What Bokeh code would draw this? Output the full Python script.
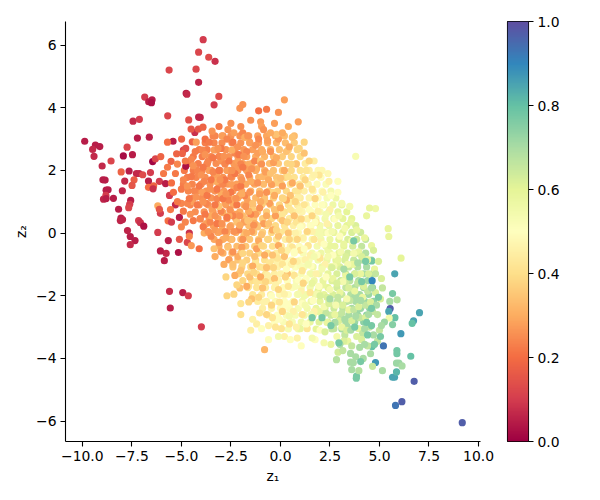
import numpy as np
from bokeh.plotting import figure
from bokeh.layouts import row
from bokeh.models import LinearColorMapper, FixedTicker, ColumnDataSource
from bokeh.palettes import Spectral11, interp_palette
from bokeh.embed import file_html
from bokeh.resources import INLINE

x_ticks = [-10, -7.5, -5, -2.5, 0, 2.5, 5, 7.5, 10]
x_labels = ["\u221210.0", "\u22127.5", "\u22125.0", "\u22122.5", "0.0", "2.5", "5.0", "7.5", "10.0"]
y_ticks = [-6, -4, -2, 0, 2, 4, 6]
y_labels = ["\u22126", "\u22124", "\u22122", "0", "2", "4", "6"]
cb_ticks = [0, 0.2, 0.4, 0.6, 0.8, 1.0]
cb_labels = ["0.0", "0.2", "0.4", "0.6", "0.8", "1.0"]

# dense core read row by row: z2, z1 values, colour values
core_rows = [
(3.1,[-3.4,-2.9,-2.5,-2.05,-1.6,-1.15,-.7,-.25,.2],[.24,.25,.26,.26,.27,.28,.29,.31,.33]),
(2.88,[-3.8,-3.35,-2.95,-2.45,-2.0,-1.55,-1.1,-.65,-.2,.25,.7],[.23,.24,.25,.26,.26,.27,.28,.3,.32,.33,.36]),
(2.66,[-4.1,-3.7,-3.2,-2.75,-2.3,-1.85,-1.4,-.95,-.5,-.05,.4,.85],[.22,.23,.25,.26,.26,.27,.28,.3,.32,.34,.37,.38]),
(2.44,[-4.4,-3.95,-3.5,-3.05,-2.6,-2.15,-1.7,-1.25,-.8,-.35,.1,.55,1.0],[.22,.23,.24,.25,.26,.27,.28,.3,.32,.33,.36,.38,.4]),
(2.22,[-4.6,-4.15,-3.7,-3.25,-2.8,-2.35,-1.9,-1.45,-1.0,-.55,-.1,.35,.8,1.25],[.22,.23,.24,.25,.26,.27,.28,.3,.31,.33,.35,.38,.4,.44]),
(2.0,[-4.85,-4.4,-3.95,-3.5,-3.05,-2.6,-2.15,-1.7,-1.25,-.8,-.35,.1,.55,1.0,1.45,1.9],[.22,.23,.24,.25,.26,.26,.27,.28,.3,.32,.34,.36,.39,.42,.45,.48]),
(1.78,[-4.7,-4.25,-3.8,-3.35,-2.9,-2.45,-2.0,-1.55,-1.1,-.65,-.2,.25,.7,1.15,1.6,2.05],[.23,.24,.25,.26,.26,.27,.28,.3,.31,.33,.35,.38,.41,.44,.47,.5]),
(1.56,[-4.9,-4.45,-4.0,-3.55,-3.1,-2.65,-2.2,-1.75,-1.3,-.85,-.4,.05,.5,.95,1.4,1.85,2.3],[.23,.24,.25,.26,.26,.27,.28,.3,.31,.33,.35,.37,.4,.43,.46,.49,.52]),
(1.34,[-4.65,-4.2,-3.75,-3.3,-2.85,-2.4,-1.95,-1.5,-1.05,-.6,-.15,.3,.75,1.2,1.65,2.1,2.55],[.24,.25,.26,.26,.27,.28,.29,.31,.33,.35,.37,.39,.42,.45,.48,.51,.54]),
(1.12,[-4.4,-3.95,-3.5,-3.05,-2.6,-2.15,-1.7,-1.25,-.8,-.35,.1,.55,1.0,1.45,1.9,2.35,2.8],[.24,.25,.26,.27,.28,.29,.3,.32,.34,.36,.38,.41,.44,.47,.5,.53,.56]),
(.9,[-4.55,-4.1,-3.65,-3.2,-2.75,-2.3,-1.85,-1.4,-.95,-.5,-.05,.4,.85,1.3,1.75,2.2,2.65,3.1],[.24,.25,.26,.27,.28,.29,.3,.32,.34,.36,.38,.41,.44,.47,.5,.53,.56,.58]),
(.68,[-4.3,-3.85,-3.4,-2.95,-2.5,-2.05,-1.6,-1.15,-.7,-.25,.2,.65,1.1,1.55,2.0,2.45,2.9,3.35],[.25,.26,.27,.28,.29,.3,.32,.34,.36,.38,.41,.44,.47,.5,.53,.56,.58,.6]),
(.46,[-4.05,-3.6,-3.15,-2.7,-2.25,-1.8,-1.35,-.9,-.45,0,.45,.9,1.35,1.8,2.25,2.7,3.15,3.6],[.26,.27,.28,.29,.3,.32,.34,.36,.38,.4,.43,.46,.49,.52,.55,.57,.59,.6]),
(.24,[-3.85,-3.4,-2.95,-2.5,-2.05,-1.6,-1.15,-.7,-.25,.2,.65,1.1,1.55,2.0,2.45,2.9,3.35,3.8],[.27,.28,.29,.3,.31,.33,.35,.37,.39,.42,.45,.48,.51,.54,.56,.58,.6,.62]),
(.02,[-3.6,-3.15,-2.7,-2.25,-1.8,-1.35,-.9,-.45,0,.45,.9,1.35,1.8,2.25,2.7,3.15,3.6,4.05],[.28,.29,.3,.31,.33,.35,.37,.39,.42,.45,.48,.51,.54,.56,.58,.6,.62,.64]),
(-.2,[-3.35,-2.9,-2.45,-2.0,-1.55,-1.1,-.65,-.2,.25,.7,1.15,1.6,2.05,2.5,2.95,3.4,3.85,4.3],[.29,.3,.31,.33,.35,.37,.39,.42,.45,.48,.5,.53,.55,.57,.59,.62,.64,.66]),
(-.42,[-3.1,-2.65,-2.2,-1.75,-1.3,-.85,-.4,.05,.5,.95,1.4,1.85,2.3,2.75,3.2,3.65,4.1],[.3,.31,.33,.35,.37,.39,.41,.44,.47,.5,.52,.54,.56,.58,.6,.63,.66]),
(-.64,[-2.9,-2.45,-2.0,-1.55,-1.1,-.65,-.2,.25,.7,1.15,1.6,2.05,2.5,2.95,3.4,3.85,4.3],[.31,.33,.35,.37,.39,.41,.44,.47,.5,.52,.54,.56,.58,.6,.63,.66,.68]),
(-.86,[-2.6,-2.15,-1.7,-1.25,-.8,-.35,.1,.55,1.0,1.45,1.9,2.35,2.8,3.25,3.7,4.15,4.6],[.33,.35,.37,.39,.41,.43,.46,.49,.51,.53,.55,.57,.6,.62,.65,.68,.7]),
(-1.08,[-2.4,-1.95,-1.5,-1.05,-.6,-.15,.3,.75,1.2,1.65,2.1,2.55,3.0,3.45,3.9,4.35],[.35,.37,.39,.41,.43,.46,.49,.51,.53,.55,.57,.6,.62,.65,.68,.7]),
(-1.3,[-2.1,-1.65,-1.2,-.75,-.3,.15,.6,1.05,1.5,1.95,2.4,2.85,3.3,3.75,4.2,4.65],[.37,.39,.41,.43,.45,.48,.5,.52,.54,.56,.59,.62,.65,.68,.7,.72]),
(-1.52,[-1.9,-1.45,-1.0,-.55,-.1,.35,.8,1.25,1.7,2.15,2.6,3.05,3.5,3.95,4.4],[.38,.4,.42,.44,.47,.5,.52,.54,.56,.58,.61,.64,.67,.7,.72]),
(-1.74,[-1.65,-1.2,-.75,-.3,.15,.6,1.05,1.5,1.95,2.4,2.85,3.3,3.75,4.2,4.65],[.4,.42,.44,.46,.49,.51,.53,.55,.57,.6,.63,.66,.69,.71,.73]),
(-1.96,[-1.4,-.95,-.5,-.05,.4,.85,1.3,1.75,2.2,2.65,3.1,3.55,4.0,4.45],[.42,.44,.46,.48,.5,.52,.54,.56,.59,.62,.65,.68,.7,.72]),
(-2.18,[-1.15,-.7,-.25,.2,.65,1.1,1.55,2.0,2.45,2.9,3.35,3.8,4.25,4.7],[.44,.46,.48,.5,.52,.54,.56,.59,.62,.65,.68,.7,.72,.74]),
(-2.4,[-.9,-.45,0,.45,.9,1.35,1.8,2.25,2.7,3.15,3.6,4.05,4.5],[.45,.47,.49,.51,.53,.55,.58,.61,.64,.67,.7,.72,.74]),
(-2.62,[-.6,-.15,.3,.75,1.2,1.65,2.1,2.55,3.0,3.45,3.9,4.35],[.48,.5,.52,.53,.55,.58,.61,.64,.67,.7,.72,.74]),
(-2.84,[-.3,.15,.6,1.05,1.5,1.95,2.4,2.85,3.3,3.75,4.2],[.5,.52,.53,.55,.58,.61,.64,.67,.7,.72,.74]),
(-3.06,[.4,.9,1.8,2.6,3.1,3.55],[.53,.55,.6,.65,.7,.72]),
]

# outlying points: z1, z2, value
outliers = [
(-3.90,6.17,.1),(-4.13,5.77,.12),(-3.62,5.61,.13),(-3.30,5.48,.08),(-4.26,5.23,.12),(-5.62,5.20,.12),(-4.13,4.81,.06),
(-4.76,4.46,.05),(-4.72,4.43,.07),(-3.11,4.36,.13),(-3.35,4.09,.1),(-6.85,4.34,.1),(-6.65,4.19,.05),(-6.48,4.25,.05),(-6.51,4.16,.03),
(-5.69,3.74,.12),(-7.44,3.57,.07),(-7.12,3.63,.1),(-4.63,3.61,.14),(-4.13,3.70,.06),(-4.05,3.69,.06),(-7.22,3.03,.05),(-6.62,3.06,.05),
(-9.88,2.93,.05),(-9.34,2.81,.05),(-9.12,2.76,.05),(-9.48,2.67,.07),(-9.41,2.45,.07),(-9.0,2.14,.07),(-8.55,2.30,.12),(-7.74,2.74,.12),
(-7.93,2.46,.02),(-7.47,2.5,.05),(-6.45,2.28,.01),(-6.31,2.37,.12),(-6.04,2.44,.18),(-5.42,2.93,.05),(-5.7,2.90,.2),(-4.32,3.21,.08),
(-4.51,3.32,.16),(-4.14,3.32,.16),(-3.91,3.38,.18),(-4.99,3.0,.18),(-4.45,2.91,.18),(-4.9,2.65,.12),(-4.78,2.7,.14),(-5.24,2.53,.18),
(-4.95,2.54,.18),(-5.52,2.29,.18),(-4.78,2.13,.03),(-8.04,1.95,.18),(-7.64,1.98,.05),(-7.27,1.9,.07),(-7.13,1.9,.07),(-6.56,1.93,.1),
(-6.95,1.86,.13),(-8.96,1.7,.05),(-8.85,1.69,.05),(-7.86,1.66,.07),(-7.39,1.7,.17),(-7.49,1.52,.15),(-6.66,1.66,.05),(-6.11,1.65,.1),
(-6.66,1.46,.2),(-6.4,1.51,.18),(-6.43,1.41,.08),(-5.8,1.58,.05),(-8.8,1.37,.05),(-8.7,1.38,.05),(-7.98,1.35,.06),(-8.93,1.08,.06),
(-8.81,1.2,.1),(-8.8,1.1,.05),(-8.43,1.11,.05),(-7.56,1.04,.05),(-7.61,.92,.1),(-7.66,.81,.12),(-8.17,.76,.05),(-6.19,.87,.3),
(-6.06,.63,.1),(-6.11,.76,.15),(-8.05,.48,.05),(-7.97,.43,.06),(-8.08,.40,.06),(-7.16,.4,.1),(-7.07,.33,.08),(-6.9,.22,.03),
(-7.72,.08,.06),(-6.19,.02,.1),(-5.67,.39,.2),(-7.34,-.24,.05),(-5.66,-.24,.05),(-7.58,-.11,.05),(-7.58,-.37,.07),
(-5.15,-.62,.03),(-5.77,-.65,.07),(-5.86,-.88,.05),(-6.06,-.57,.05),(-5.6,-1.86,.07),(-4.93,-1.9,.05),(-4.65,-2.0,.1),(-5.56,-2.39,.05),
(-3.99,-2.99,.1),(-5.1,-.2,.15),(-4.7,-.3,.12),(-5.5,.35,.1),(-4.1,-.5,.2),(-4.6,.0,.08),(-5.1,.5,.05),(-5.3,.9,.07),(-5.6,1.2,.1),
(9.18,-6.05,.97),(5.81,-5.5,.93),(6.13,-5.38,.97),(6.75,-4.73,.97),(5.76,-4.6,.85),(5.66,-4.6,.85),(3.84,-4.56,.77),(3.83,-4.63,.77),
(6.58,-3.93,.8),(5.88,-3.75,.78),(5.88,-3.85,.78),(6.08,-3.21,.87),(7.02,-2.54,.85),(6.72,-2.80,.85),(6.65,-2.88,.8),(5.54,-2.41,.97),
(5.47,-2.5,.85),(5.78,-2.7,.8),(5.66,-2.92,.75),(5.49,-2.71,.55),(5.25,-2.84,.72),(5.89,-2.13,.68),(5.52,-2.18,.7),(5.66,-1.93,.77),
(5.77,-1.3,.85),(6.09,-.8,.6),(5.44,.14,.58),(5.47,-.11,.58),(3.8,2.45,.53),(4.8,.78,.56),(5.2,-3.6,.93),(4.8,-4.13,.87),(4.65,-4.25,.65),
(5.15,-4.39,.7),(5.86,-4.43,.82),(5.86,-4.15,.72),(5.98,-4.15,.72),(6.14,-4.24,.7),(4.18,-4.0,.7),(3.96,-4.39,.68),(3.6,-4.36,.7),
(3.54,-4.12,.7),(3.68,-4.14,.7),(2.83,-4.04,.68),(3.54,-3.84,.7),(2.91,-3.8,.63),(4.63,-3.62,.8),(4.63,-1.52,.9),(4.61,-.89,.78),
(-1.9,4.1,.26),(-2.05,3.98,.26),(0.2,4.25,.28),(-0.7,3.95,.22),(-1.1,3.9,.2),(0.9,3.55,.28),(-0.1,3.85,.26),
(-5.9,1.9,.22),(-5.5,1.6,.2),(-5.7,2.1,.22),(-5.2,2.2,.24),(-5.4,1.3,.2),(-5.55,.75,.22),(-5.0,.95,.24),(-5.0,.2,.24),(-4.8,.35,.24),(-4.5,-.4,.27),
(-2.5,3.5,.25),(-1.5,3.6,.25),(-1.0,3.55,.27),(-.3,3.5,.28),(-3.8,3.0,.2),(-3.1,3.4,.22),(-2.0,3.4,.25),(.4,3.4,.3),(.7,3.1,.33),(1.2,2.9,.38),
(1.7,2.3,.45),(2.1,2.0,.48),(2.4,1.9,.48),(2.9,1.65,.5),(-.8,-3.72,.32),(-2.0,-2.6,.4),(-1.5,-3.1,.45),(-2.7,-2.0,.38),(-1.2,-2.9,.45),(-.6,-3.4,.5),
(-3.3,.1,.27),(-2.9,.65,.3),(-2.4,.95,.3),(-1.9,.55,.33),(-1.4,.75,.36),(-.9,.95,.36),(-.4,1.3,.38),(.1,.6,.42),(.55,1.0,.44),(1.0,.7,.47),
(1.5,.25,.5),(2.0,-.05,.54),(2.4,-.55,.56),(2.85,-.95,.6),(3.3,-1.55,.64),(3.75,-2.05,.7),(-3.7,2.2,.24),(-3.0,2.3,.26),(-2.3,2.1,.27),(-1.6,2.2,.3),
(-.9,1.8,.32),(-.2,1.6,.36),(.4,1.8,.4),(.9,1.15,.45),(-2.5,-.2,.33),(-1.9,-.95,.38),(-1.25,-.95,.42),(-.65,-1.35,.45),(-.15,-.95,.46),(.4,-.95,.5),
(1.0,-1.05,.52),(1.55,-1.3,.55),(.75,-1.7,.52),(.2,-2.35,.5),(1.2,-2.0,.55),(1.9,-1.85,.6),(2.35,-2.05,.62),(2.85,-2.2,.66),(3.35,-2.95,.7),(3.85,-2.5,.72),
]

band_22 = [(-5.3,1.9),(-5.0,1.4),(-4.8,2.3),(-4.6,1.1),(-4.5,1.8),(-4.3,2.6),(-4.2,.9),(-4.1,1.5),(-3.9,2.1),(-3.8,.6),(-3.7,1.2),(-3.6,2.9),(-3.5,1.7),(-3.4,2.4),(-3.3,.9),(-3.2,1.4),(-3.1,2.0),(-3.0,2.7),(-2.9,1.1),(-2.8,1.7),(-2.7,.5),(-2.6,2.3),(-2.5,1.3),(-2.4,2.9),(-2.3,1.9),(-2.2,.9),(-2.1,2.5),(-2.0,1.5),(-1.9,2.1),(-4.9,.7),(-5.2,1.0),(-4.4,.4),(-3.9,.2),(-3.2,.3)]
band_24 = [(-4.9,1.7),(-4.7,.95),(-4.5,2.35),(-4.35,1.35),(-4.2,2.0),(-4.05,.45),(-3.95,2.65),(-3.85,1.65),(-3.75,.95),(-3.65,2.3),(-3.55,.35),(-3.4,1.95),(-3.3,3.1),(-3.2,1.1),(-3.1,2.45),(-3.0,.7),(-2.9,1.55),(-2.8,2.2),(-2.7,3.0),(-2.6,1.05),(-2.5,1.8),(-2.4,.55),(-2.3,2.55),(-2.2,1.45),(-2.1,.1),(-2.0,2.2),(-1.9,3.2),(-1.8,1.2),(-1.7,2.6),(-1.6,1.85),(-1.5,.6),(-1.3,2.3),(-1.1,3.0),(-3.5,-.1),(-4.6,-.1),(-2.8,.05)]
band_26 = [(-4.7,1.5),(-4.55,.6),(-4.4,2.15),(-4.25,1.15),(-4.0,1.85),(-3.9,1.0),(-3.8,2.5),(-3.65,.05),(-3.55,1.4),(-3.45,3.25),(-3.3,.55),(-3.15,2.7),(-3.05,1.7),(-2.95,.3),(-2.85,2.45),(-2.75,1.25),(-2.65,3.3),(-2.55,.75),(-2.45,2.0),(-2.35,.05),(-2.25,1.1),(-2.15,2.75),(-2.05,.55),(-1.95,1.7),(-1.85,2.45),(-1.75,.85),(-1.65,3.1),(-1.55,1.3),(-1.45,2.05),(-1.35,.25),(-1.25,2.8),(-1.15,1.6),(-1.05,.8),(-.95,2.2),(-.85,3.3),(-.7,1.3),(-.5,2.6),(-3.1,-.3),(-2.4,-.6),(-1.9,-.2)]
band_28 = [(-4.45,1.0),(-4.25,2.9),(-3.95,1.3),(-3.75,.3),(-3.6,2.0),(-3.45,.75),(-3.35,2.65),(-3.2,1.85),(-3.05,.05),(-2.95,3.1),(-2.8,.95),(-2.7,2.0),(-2.55,.2),(-2.45,1.55),(-2.35,3.2),(-2.25,.6),(-2.15,2.3),(-2.05,1.2),(-1.95,-.45),(-1.85,.35),(-1.75,2.05),(-1.65,1.0),(-1.55,2.9),(-1.45,.05),(-1.35,1.6),(-1.25,.6),(-1.15,2.55),(-1.05,1.25),(-.95,3.4),(-.85,.3),(-.75,1.95),(-.65,2.95),(-.55,.95),(-.45,1.55),(-.35,2.25),(-.25,.55),(-.1,3.0),(.1,1.5),(-2.6,-.85),(-3.0,-.6),(-1.2,-.5)]
band_30 = [(-3.85,.0),(-3.5,.55),(-3.25,1.65),(-3.0,1.25),(-2.75,-.15),(-2.6,.55),(-2.45,2.65),(-2.3,1.1),(-2.15,-.75),(-2.05,.25),(-1.95,1.25),(-1.8,3.05),(-1.7,.0),(-1.6,.7),(-1.5,1.65),(-1.4,-1.05),(-1.3,.3),(-1.2,2.05),(-1.1,-.25),(-1.0,1.0),(-.9,2.6),(-.8,-.7),(-.7,.55),(-.6,1.7),(-.5,3.2),(-.4,.1),(-.3,1.2),(-.2,2.4),(-.1,-.4),(.0,.8),(.1,3.2),(.2,2.0),(.3,1.05),(.45,2.75),(-2.85,-1.0),(-2.3,-1.35),(-1.7,-1.7),(-3.3,-.75),(-1.0,-1.4),(.6,1.6)]
band_34 = [(-3.35,-.5),(-3.1,.85),(-2.65,-.45),(-2.4,-1.0),(-2.2,.35),(-2.0,-1.2),(-1.85,-.1),(-1.65,.4),(-1.55,-1.4),(-1.4,.95),(-1.3,-.75),(-1.15,.2),(-1.0,2.3),(-.95,-.05),(-.8,1.05),(-.7,-1.1),(-.6,.3),(-.5,1.9),(-.4,-.7),(-.3,.75),(-.2,3.15),(-.1,-.1),(.0,1.75),(.1,.4),(.2,-.75),(.3,2.6),(.4,.0),(.5,1.2),(.6,3.05),(.7,.55),(.8,2.2),(-2.05,-1.75),(-1.45,-2.1),(-.9,-1.75),(-.3,-1.45),(.35,-1.3),(1.0,1.5),(1.2,2.55)]
band_38 = [(-2.75,-1.4),(-2.2,-1.65),(-1.9,-.65),(-1.6,-2.2),(-1.35,-1.25),(-1.1,-2.05),(-.95,-.4),(-.75,-1.55),(-.6,-.2),(-.45,-2.3),(-.35,-1.1),(-.2,.1),(-.1,-1.8),(.05,-.55),(.15,1.1),(.25,-1.4),(.35,.35),(.45,-.2),(.55,2.2),(.65,-.9),(.75,1.0),(.85,-.2),(.95,2.7),(1.05,.45),(1.15,-1.6),(1.25,1.7),(1.35,.05),(1.45,2.3),(-.7,-2.6),(.1,-2.5),(-2.35,-1.95),(.7,-2.2),(1.75,1.1),(1.6,.55)]
band_42 = [(-2.0,-2.25),(-1.6,-1.7),(-1.2,-1.55),(-1.05,-2.55),(-.85,-1.1),(-.55,-.95),(-.4,-2.7),(-.15,-.8),(-.05,-2.2),(.1,-1.0),(.25,.1),(.4,-1.7),(.5,.75),(.6,-.45),(.7,-1.35),(.8,.35),(.9,1.35),(1.0,-.55),(1.1,-1.2),(1.2,.9),(1.3,2.0),(1.4,-.4),(1.5,-1.9),(1.6,1.4),(1.7,-.2),(1.8,.35),(1.95,1.85),(2.0,-.8),(-.25,-3.0),(.45,-2.9),(1.1,-2.6),(1.35,-3.05),(.05,-3.05)]
band_46 = [(-1.4,-2.75),(-.85,-2.2),(-.6,-2.95),(-.25,-1.65),(.0,-1.3),(.2,-1.95),(.35,-.55),(.55,-1.0),(.65,-2.5),(.75,.0),(.85,-.9),(.95,.75),(1.05,-1.85),(1.15,-.15),(1.25,-.85),(1.35,.45),(1.5,-.7),(1.6,.05),(1.7,1.85),(1.8,-1.3),(1.9,.7),(2.05,-.3),(2.15,1.3),(2.25,-1.0),(2.35,.3),(2.5,.75),(.2,-3.3),(.85,-3.35),(1.7,-2.5),(.8,-3.0),(2.45,1.65)]
band_50 = [(-.95,-3.05),(-.45,-2.0),(-.05,-2.75),(.3,-1.15),(.5,-2.25),(.7,-.6),(.9,-1.5),(1.0,.2),(1.1,-2.25),(1.2,-.5),(1.3,-1.45),(1.45,.75),(1.55,-1.05),(1.65,-2.15),(1.75,.35),(1.85,-.7),(1.95,-1.7),(2.1,.9),(2.2,-.35),(2.3,-1.4),(2.4,.0),(2.55,1.2),(2.65,-.7),(2.75,.45),(2.9,1.3),(3.0,-.1),(.5,-3.4),(1.05,-3.6),(1.3,-2.9),(2.0,-3.1),(1.75,-3.4)]
band_54 = [(-.1,-3.3),(.45,-2.65),(.9,-1.95),(1.25,-2.3),(1.4,-1.0),(1.55,-2.6),(1.7,-.75),(1.85,-1.95),(2.0,.1),(2.1,-1.15),(2.2,-2.35),(2.3,.6),(2.4,-.75),(2.5,-1.8),(2.6,.05),(2.7,-1.05),(2.8,-2.3),(2.95,.55),(3.05,-.6),(3.15,-1.55),(3.25,.15),(3.4,-1.0),(3.5,.85),(3.6,-.25),(3.7,-.65),(3.35,-2.1),(1.6,-3.35),(2.2,-3.5),(3.1,.95),(2.85,-3.3)]
band_58 = [(1.0,-3.05),(1.6,-1.6),(1.95,-2.5),(2.15,-1.65),(2.35,-2.85),(2.5,-.4),(2.65,-1.45),(2.75,-2.6),(2.9,-.85),(3.0,-1.9),(3.1,-3.0),(3.2,-.35),(3.3,-1.35),(3.45,-2.45),(3.55,.35),(3.65,-1.0),(3.75,-1.85),(3.85,.1),(3.95,-.6),(4.05,-1.3),(4.15,-2.05),(4.25,-.15),(4.4,-.85),(4.5,.8),(4.35,.55),(3.4,-3.45),(2.55,-3.55),(3.95,-3.05),(4.6,-.4),(4.75,-1.15)]
band_62 = [(2.0,-2.0),(2.25,-3.15),(2.45,-2.25),(2.6,-1.1),(2.85,-1.6),(2.95,-2.8),(3.15,-2.3),(3.3,-.75),(3.45,-1.75),(3.6,-2.8),(3.75,-1.3),(3.85,-3.3),(3.95,-2.35),(4.1,-.75),(4.2,-1.7),(4.3,-2.7),(4.45,-1.3),(4.55,-2.2),(4.7,-.55),(4.8,-1.9),(4.95,-.9),(5.05,-2.1),(3.2,-3.45),(4.1,-3.4),(5.1,-1.45),(3.35,-3.1)]
band_66 = [(2.3,-2.55),(2.7,-3.05),(2.9,-2.05),(3.1,-2.55),(3.25,-3.25),(3.5,-2.15),(3.7,-2.45),(3.9,-1.6),(4.0,-2.7),(4.15,-3.2),(4.3,-2.3),(4.4,-1.85),(4.5,-3.0),(4.65,-2.5),(4.8,-1.3),(4.9,-2.6),(5.0,-3.1),(5.15,-1.75),(3.6,-3.6),(4.4,-3.6),(4.9,-3.45),(3.15,-3.75)]
band_70 = [(2.5,-2.1),(2.75,-2.85),(3.25,-2.75),(3.55,-3.1),(3.8,-2.65),(4.05,-2.15),(4.25,-3.05),(4.45,-2.6),(4.6,-1.75),(4.7,-3.25),(4.85,-2.3),(5.1,-2.95),(4.0,-3.65),(3.8,-3.95),(4.55,-3.85),(4.25,-3.55),(3.0,-3.55),(3.2,-1.15),(3.9,-.95)]
band_77 = [(1.6,-2.7),(2.1,-2.7),(2.95,-3.5),(3.5,-1.4),(3.75,-3.0),(4.1,-1.55),(4.3,-.9),(4.35,-2.85),(4.6,-2.95),(4.75,-3.55),(4.95,-2.05),(5.05,-3.3),(3.7,-.25),(4.05,-4.1),(4.4,-3.25),(2.55,-2.95),(4.6,-2.4)]

bands = [(.28,band_28),(.42,band_42),(.24,band_24),(.34,band_34),(.58,band_58),(.30,band_30),(.46,band_46),(.22,band_22),
         (.50,band_50),(.66,band_66),(.26,band_26),(.38,band_38),(.54,band_54),(.62,band_62),(.70,band_70),(.77,band_77)]

z1, z2, val = [], [], []
for y, xs, cs in core_rows:
    z1 += xs
    z2 += [y] * len(xs)
    val += cs
z1 += [o[0] for o in outliers]
z2 += [o[1] for o in outliers]
val += [o[2] for o in outliers]
for c, pts in bands:
    z1 += [q[0] for q in pts]
    z2 += [q[1] for q in pts]
    val += [c] * len(pts)

FONT = "DejaVu Sans"
mapper = LinearColorMapper(palette=interp_palette(Spectral11[::-1], 256), low=0, high=1)

p = figure(width=500, height=484, frame_width=415, frame_height=420, output_backend="svg", toolbar_location=None,
           x_range=(-10.85, 10.1), y_range=(-6.65, 6.75), min_border_left=65, min_border_top=21,
           min_border_bottom=43, min_border_right=20)
p.outline_line_color = None
p.grid.visible = False
p.scatter("z1", "z2", source=ColumnDataSource(dict(z1=z1, z2=z2, val=val)), size=7.2, line_color=None,
          fill_color={"field": "val", "transform": mapper})

for ax, ticks, labels, name in ((p.xaxis[0], x_ticks, x_labels, "z\u2081"), (p.yaxis[0], y_ticks, y_labels, "z\u2082")):
    ax.ticker = FixedTicker(ticks=ticks)
    ax.major_label_overrides = dict(zip(ticks, labels))
    ax.axis_label = name
    ax.axis_label_text_font = FONT
    ax.axis_label_text_font_size = "13.9px"
    ax.axis_label_text_font_style = "normal"
    ax.axis_label_text_color = "black"
    ax.major_label_text_font = FONT
    ax.major_label_text_font_size = "13.9px"
    ax.major_label_text_color = "black"
    ax.axis_line_width = 1.1
    ax.major_tick_line_width = 1.1
    ax.major_tick_in = 0
    ax.major_tick_out = 5
    ax.minor_tick_line_color = None
    ax.major_label_standoff = 4
    ax.axis_label_standoff = 4

# colour bar as a narrow figure with a real right-hand axis, so that its ticks point outwards
gradient = np.linspace(0, 1, 256).reshape(256, 1)
cb = figure(width=92, height=484, frame_width=21, frame_height=420, output_backend="svg", toolbar_location=None,
            x_range=(0, 1), y_range=(0, 1), x_axis_location=None, y_axis_location="right",
            min_border_left=7, min_border_top=21, min_border_bottom=43, min_border_right=0)
cb.image(image=[gradient], x=0, y=0, dw=1, dh=1, color_mapper=mapper)
cb.grid.visible = False
cb.outline_line_color = "black"
cb.outline_line_width = 1.1
cax = cb.yaxis[0]
cax.ticker = FixedTicker(ticks=cb_ticks)
cax.major_label_overrides = dict(zip(cb_ticks, cb_labels))
cax.major_label_text_font = FONT
cax.major_label_text_font_size = "13.9px"
cax.major_label_text_color = "black"
cax.axis_line_color = None
cax.major_tick_line_width = 1.1
cax.major_tick_in = 0
cax.major_tick_out = 5
cax.minor_tick_line_color = None
cax.major_label_standoff = 4

open("out.html", "w").write(file_html(row(p, cb, spacing=0), INLINE))
